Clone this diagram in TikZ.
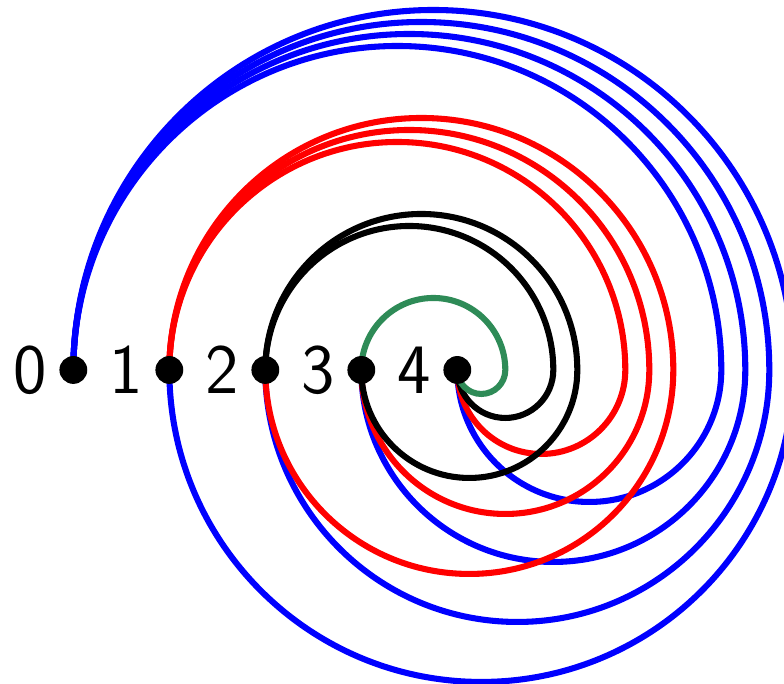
\documentclass[tikz,border=0pt]{standalone}
\definecolor{arcgreen}{RGB}{46,139,87}
\usetikzlibrary{positioning}
\tikzset{
  vertex/.style={circle, fill=black, inner sep=0pt, minimum size=0.29cm},
  arcline/.style={line width=1.8pt},
  num/.style={font=\fontsize{21}{25}\selectfont\sffamily, inner sep=0pt}
}
\begin{document}
\begin{tikzpicture}
  % frame, the outer blue arc is cut at the right
  \useasboundingbox (-0.764,-3.271) rectangle (7.403,3.854);
  \clip (-0.764,-3.271) rectangle (7.403,3.854);

  % points on the line
  \coordinate (p0) at (0,0);
  \coordinate (p1) at (1,0);
  \coordinate (p2) at (2,0);
  \coordinate (p3) at (3,0);
  \coordinate (p4) at (4,0);

  % blue arcs from 0
  \foreach \ra/\rb in {3.75/3.25, 3.625/2.625, 3.5/2, 3.375/1.375}
    \draw[arcline, blue] (p0) arc[start angle=180, end angle=0, radius=\ra]
      arc[start angle=0, end angle=-180, radius=\rb];

  % red arcs from 1
  \foreach \ra/\rb in {2.625/2.125, 2.5/1.5, 2.375/0.875}
    \draw[arcline, red] (p1) arc[start angle=180, end angle=0, radius=\ra]
      arc[start angle=0, end angle=-180, radius=\rb];

  % black arcs from 2
  \foreach \ra/\rb in {1.625/1.125, 1.5/0.5}
    \draw[arcline, black] (p2) arc[start angle=180, end angle=0, radius=\ra]
      arc[start angle=0, end angle=-180, radius=\rb];

  % green arc from 3
  \draw[arcline, arcgreen] (p3) arc[start angle=180, end angle=0, radius=0.75]
    arc[start angle=0, end angle=-180, radius=0.25];

  % dots and numbers
  \node[vertex] (n0) at (p0) {};
  \node[vertex] (n1) at (p1) {};
  \node[vertex] (n2) at (p2) {};
  \node[vertex] (n3) at (p3) {};
  \node[vertex] (n4) at (p4) {};
  \node[num, left=3.4pt of n0] (l0) {0};
  \node[num, left=3.4pt of n1] (l1) {1};
  \node[num, left=3.4pt of n2] (l2) {2};
  \node[num, left=3.4pt of n3] (l3) {3};
  \node[num, left=3.4pt of n4] (l4) {4};
\end{tikzpicture}
\end{document}
